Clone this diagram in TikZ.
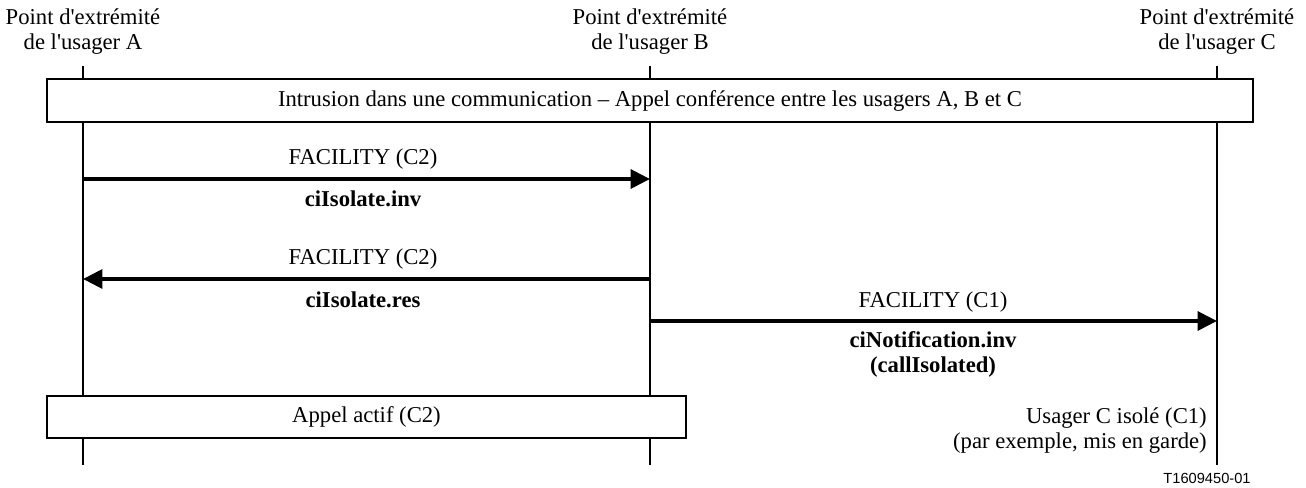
\documentclass[tikz,border=0pt]{standalone}
\usepackage{fontspec}
\setmainfont{Liberation Serif}[Ligatures=TeXOff]
\newfontfamily\arialfont{Liberation Sans}
\usetikzlibrary{arrows.meta}
\tikzset{
  txt/.style={font=\fontsize{17}{18.75}\selectfont, inner sep=0pt, anchor=base},
  bold/.style={txt, font=\fontsize{17}{18.75}\selectfont\bfseries},
  lifeline/.style={line width=1.5pt},
  msg/.style={line width=3pt, -{Triangle[length=14.5pt,width=14pt]}},
  phase/.style={draw, line width=0.8pt, fill=white, inner sep=0pt,
    font=\fontsize{17}{18.75}\selectfont},
}
\begin{document}
\begin{tikzpicture}[x=0.75pt,y=-0.75pt]
\useasboundingbox (0,0) rectangle (1306,488);
% headers (anchor base = last line's baseline)
\node[txt, align=center] (hA) at (83,50) {Point d'extrémité\\de l'usager A};
\node[txt, align=center] (hB) at (650,50) {Point d'extrémité\\de l'usager B};
\node[txt, align=center] (hC) at (1217,50) {Point d'extrémité\\de l'usager C};
% lifelines
\coordinate (At) at (83,66);  \coordinate (Ab) at (83,465);
\coordinate (Bt) at (650,66); \coordinate (Bb) at (650,465);
\coordinate (Ct) at (1217,66); \coordinate (Cb) at (1217,465);
\draw[lifeline] (At) -- (Ab);
\draw[lifeline] (Bt) -- (Bb);
\draw[lifeline] (Ct) -- (Cb);
% phase boxes
\node[phase, minimum width=904.5pt, minimum height=32.25pt] (top) at (650,100.5)
  {Intrusion dans une communication – Appel conférence entre les usagers A, B et C};
\node[phase, minimum width=479.25pt, minimum height=31.5pt] (act) at (366.5,417)
  {Appel actif (C2)};
% messages
\coordinate (A1) at (83,179);  \coordinate (B1) at (650,179);
\coordinate (B2) at (650,279); \coordinate (A2) at (83,279);
\coordinate (B3) at (650,321); \coordinate (C3) at (1217,321);
\draw[msg] (A1) -- (B1);
\draw[msg] (B2) -- (A2);
\draw[msg] (B3) -- (C3);
\node[txt] (l1a) at (363,165) {FACILITY (C2)};
\node[bold] (l1b) at (363,207) {ciIsolate.inv};
\node[txt] (l2a) at (363,265) {FACILITY (C2)};
\node[bold] (l2b) at (363,307) {ciIsolate.res};
\node[txt] (l3a) at (933,307) {FACILITY (C1)};
\node[bold, align=center] (l3b) at (933,372) {ciNotification.inv\\(callIsolated)};
% state of C
\node[txt, anchor=base east, align=right] (stC) at (1207,448)
  {Usager C isolé (C1)\\(par exemple, mis en garde)};
% figure id
\node[inner sep=0pt, anchor=base, font=\arialfont\fontsize{11}{13}\selectfont] (fid) at (1207,483) {T1609450-01};
\end{tikzpicture}
\end{document}
